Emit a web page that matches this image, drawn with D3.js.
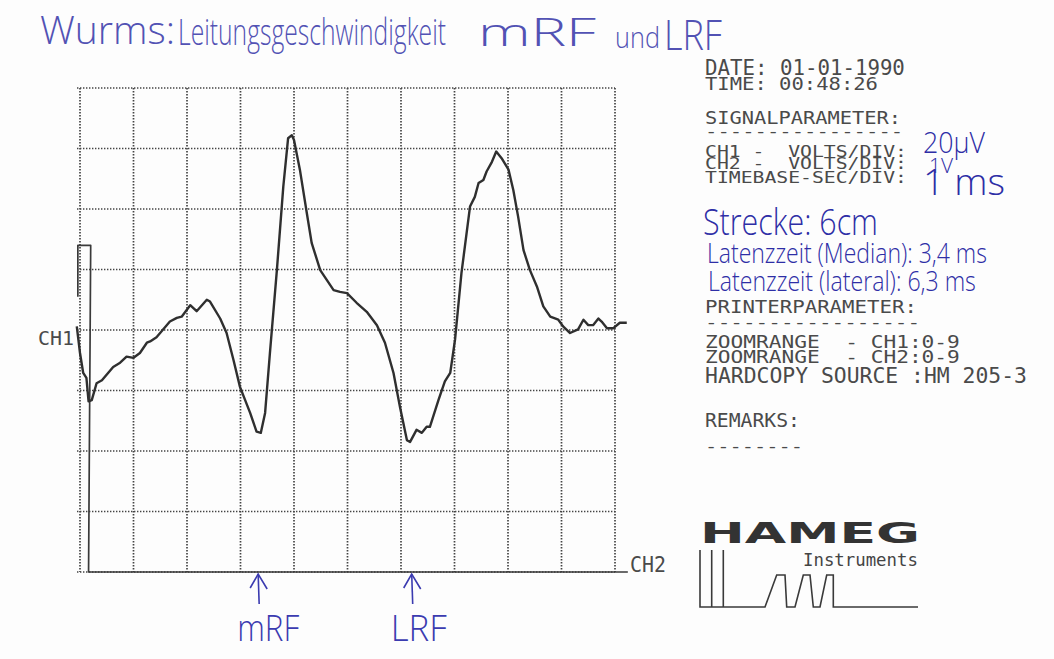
<!DOCTYPE html>
<html><head><meta charset="utf-8">
<script src="https://cdn.jsdelivr.net/npm/d3@7"></script>
<style>
html,body{margin:0;padding:0;background:#fff;}
svg{display:block;}
</style></head>
<body>
<svg id="chart" width="1054" height="659"></svg>
<script>
// ---------- DATA ----------
// CH1 trace (time in divisions, amplitude in divisions)
const ch1Time  = [-0.06,0.00,0.06,0.12,0.16,0.22,0.31,0.41,0.62,0.75,0.87,1.00,1.12,1.25,1.31,1.43,1.68,1.81,1.90,2.06,2.18,2.37,2.43,2.62,2.74,2.87,2.99,3.18,3.30,3.38,3.46,3.55,3.68,3.80,3.89,3.96,4.00,4.11,4.24,4.33,4.49,4.74,4.86,4.99,5.17,5.36,5.55,5.70,5.86,5.98,6.11,6.17,6.29,6.39,6.48,6.54,6.70,6.82,6.92,7.01,7.13,7.29,7.38,7.45,7.54,7.60,7.70,7.78,7.88,8.01,8.10,8.19,8.29,8.41,8.54,8.66,8.79,8.94,9.03,9.16,9.31,9.41,9.50,9.59,9.69,9.75,9.85,9.97,10.09,10.22];
const ch1Value = [4.06,3.62,3.29,3.21,2.82,2.84,3.12,3.17,3.39,3.46,3.56,3.54,3.62,3.79,3.81,3.88,4.14,4.20,4.22,4.41,4.31,4.50,4.47,4.19,3.95,3.50,3.06,2.63,2.32,2.30,2.63,3.62,4.99,6.37,7.17,7.22,7.14,6.65,5.93,5.44,4.99,4.66,4.63,4.61,4.45,4.30,4.08,3.79,3.29,2.73,2.18,2.15,2.35,2.30,2.40,2.40,2.84,3.15,3.29,3.84,4.94,6.04,6.20,6.43,6.48,6.62,6.78,6.95,6.84,6.65,6.31,5.87,5.32,4.99,4.72,4.39,4.22,4.17,4.06,3.95,4.01,4.17,4.08,4.08,4.19,4.14,4.03,4.03,4.12,4.12];
// CH2 trace (trigger pulse then baseline)
const ch2Time  = [-0.04,-0.04,0.20,0.16,10.24];
const ch2Value = [4.55,5.40,5.40,0.00,0.00];
// Grid divisions
const xDivisions = d3.range(0, 11);
const yDivisions = d3.range(0, 9);
// Channel labels
const channelLabels = ["CH1","CH2"];
// Markers (time in divisions) and their labels
const markerTimes  = [3.33, 6.20];
const markerLabels = ["mRF","LRF"];
// Title words
const titleWords = ["Wurms:","Leitungsgeschwindigkeit","mRF","und","LRF"];
// Instrument panel lines
const panelLines = ["DATE: 01-01-1990","TIME: 00:48:26","SIGNALPARAMETER:","----------------","CH1 -  VOLTS/DIV:","CH2 -  VOLTS/DIV:","TIMEBASE-SEC/DIV:","PRINTERPARAMETER:","-----------------","ZOOMRANGE  - CH1:0-9","ZOOMRANGE  - CH2:0-9","HARDCOPY SOURCE :HM 205-3","REMARKS:","--------"];
// Handwritten notes
const noteTexts = ["20µV","1V","1 ms","Strecke: 6cm","Latenzzeit (Median): 3,4 ms","Latenzzeit (lateral): 6,3 ms"];
const brandTexts = ["HAMEG","Instruments"];

// ---------- LAYOUT ----------
const svg = d3.select("#chart");
const plot = {left:80, right:615, top:88, bottom:572};
const x = d3.scaleLinear().domain([0,10]).range([plot.left, plot.right]);
const y = d3.scaleLinear().domain([0,8]).range([plot.bottom, plot.top]);

svg.append("rect").attr("width",1054).attr("height",659).attr("fill","#fdfdfd");

const MONO = "'DejaVu Sans Mono', 'Liberation Mono', monospace";
const HAND = "'Open Sans', 'DejaVu Sans', sans-serif";

// Places a text so that its cap height and total width match the given sizes,
// by horizontal scaling (keeps the real bounding box equal to what is drawn).
function fitText(g, txt, px, base, cap, width, opts) {
  const o = Object.assign({family:MONO, fill:"#4a4a4a", weight:"normal", capRatio:0.729}, opts||{});
  const t = g.append("text")
    .attr("x", 0).attr("y", 0)
    .attr("font-family", o.family)
    .attr("font-size", (cap / o.capRatio).toFixed(2))
    .attr("font-weight", o.weight)
    .attr("fill", o.fill)
    .style("white-space","pre")
    .attr("xml:space","preserve")
    .text(txt);
  const w0 = t.node().getComputedTextLength() || width;
  const sx = width / w0;
  t.attr("transform", `translate(${px},${base}) scale(${sx.toFixed(4)},1)`);
  return t;
}

// ---------- GRID ----------
const grid = svg.append("g").attr("stroke","#444").attr("stroke-width",1.7)
  .attr("stroke-dasharray","1.4,1.6").attr("fill","none");
grid.selectAll("line.v").data(xDivisions).join("line")
  .attr("x1", d=>x(d)).attr("x2", d=>x(d))
  .attr("y1", y(8)).attr("y2", y(0));
grid.selectAll("line.h").data(yDivisions).join("line")
  .attr("x1", x(0)-3).attr("x2", x(10))
  .attr("y1", d=>y(d)).attr("y2", d=>y(d));

// ---------- TRACES ----------
const line = d3.line().x(d=>x(d[0])).y(d=>y(d[1]));
svg.append("path")
  .datum(d3.zip(ch2Time, ch2Value))
  .attr("d", line).attr("fill","none")
  .attr("stroke","#3a3a3a").attr("stroke-width",1.7).attr("stroke-linejoin","round");
svg.append("path")
  .datum(d3.zip(ch1Time, ch1Value))
  .attr("d", line).attr("fill","none")
  .attr("stroke","#2f2f2f").attr("stroke-width",2.4).attr("stroke-linejoin","round");

// channel labels
fitText(svg, channelLabels[0], 38, 345, 14, 36);
fitText(svg, channelLabels[1], 630, 572, 15, 36);

// ---------- INSTRUMENT PANEL ----------
const panelLayout = [
  [75,15,200],[90,13,173],[124,12.5,196],[137,12,198],
  [157,11,202],[169,11,202],[183,11.5,202],
  [313,13,212],[328,12,215],
  [348,13,255],[363,13,255],[383,15,322],
  [427,14,95],[452,12,98]
];
const panel = svg.append("g");
panelLines.forEach((t,i)=>{
  const [b,c,w] = panelLayout[i];
  fitText(panel, t, 705, b, c, w);
});

// ---------- LOGO ----------
fitText(svg, brandTexts[0], 700, 543, 21, 220, {family:"'DejaVu Sans', sans-serif", weight:"900", fill:"#333"});
fitText(svg, brandTexts[1], 803, 566, 13, 115, {fill:"#444"});
const logoPath = [[700,550],[700,607],[711.7,607],[711.7,550],[711.7,607],[723.3,607],[723.3,550],[723.3,607],
  [765,607],[776.7,575],[785,575],[786.7,607],[795,607],[803.3,575],[810,575],[813.3,607],
  [820,607],[826.7,575],[833.3,575],[833.3,607],[918,607]];
svg.append("path").attr("d", d3.line()(logoPath)).attr("fill","none")
  .attr("stroke","#3a3a3a").attr("stroke-width",1.6);

// ---------- HANDWRITING ----------
const titleLayout = [[40,44,27,135],[178,45,26,268],[478,46,27,118],[615,48,21,45],[664,50,30,58]];
titleWords.forEach((t,i)=>{
  const [px,b,c,w] = titleLayout[i];
  fitText(svg, t, px, b, c, w, {family:HAND, fill:"#5252b4", weight:"300", capRatio:0.714});
});
const noteLayout = [[923,153,21,62],[929,173,14,24],[923,195,26,82],[703,235,26,175],[707,263,19,280],[708,291,20,268]];
noteTexts.forEach((t,i)=>{
  const [px,b,c,w] = noteLayout[i];
  fitText(svg, t, px, b, c, w, {family:HAND, fill:"#2e2ea6", weight:"300", capRatio:0.714});
});

// markers
const mk = svg.append("g").attr("stroke","#3b3bb0").attr("stroke-width",1.6).attr("fill","none");
markerTimes.forEach((t,i)=>{
  const mx = x(t);
  mk.append("path").attr("d", `M${mx},${plot.bottom+2} L${mx+1},${plot.bottom+32}`);
  mk.append("path").attr("d", `M${mx-8},${plot.bottom+16} L${mx},${plot.bottom+2} L${mx+9},${plot.bottom+17}`);
  fitText(svg, markerLabels[i], mx-21, 641, 26, i===0?62:56, {family:HAND, fill:"#3b3bb0", weight:"300", capRatio:0.714});
});
</script>
</body></html>
